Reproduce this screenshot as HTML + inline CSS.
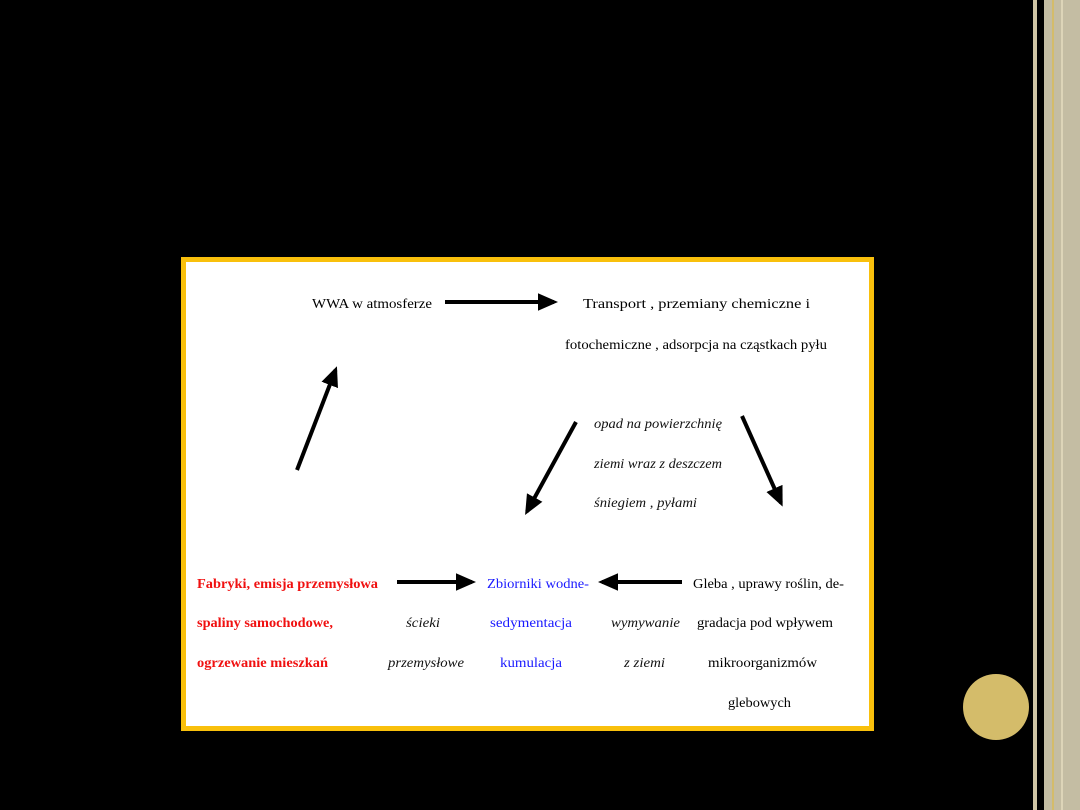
<!DOCTYPE html>
<html><head><meta charset="utf-8"><style>
html,body{margin:0;padding:0;background:#000;width:1080px;height:810px;overflow:hidden}
</style></head><body>
<svg width="1080" height="810" xmlns="http://www.w3.org/2000/svg" style="position:absolute;left:0;top:0">
<defs><marker id="ah" markerWidth="5" markerHeight="5" refX="4" refY="2.5" orient="auto" markerUnits="strokeWidth"><path d="M0,0.3 L5,2.5 L0,4.7 z" fill="#000"/></marker></defs>
<rect x="0" y="0" width="1080" height="810" fill="#000"/>
<rect x="1033" y="0" width="4" height="810" fill="#cfc5a5"/>
<rect x="1044" y="0" width="36" height="810" fill="#c4bda3"/>
<rect x="1052" y="0" width="2" height="810" fill="#d4bc6a"/>
<rect x="1061" y="0" width="2" height="810" fill="#ddd5b8"/>
<rect x="183.5" y="259.5" width="688" height="469" fill="#fff" stroke="#f9c00c" stroke-width="5"/>
<circle cx="996" cy="707" r="33" fill="#d4bc6a"/>
<g stroke="#000" stroke-width="4" fill="none" marker-end="url(#ah)">
<line x1="445" y1="302" x2="554" y2="302"/>
<line x1="397" y1="582" x2="472" y2="582"/>
<line x1="682" y1="582" x2="602" y2="582"/>
<line x1="297" y1="470" x2="335.5" y2="370"/>
<line x1="576" y1="422" x2="527" y2="511.5"/>
<line x1="742" y1="416" x2="781" y2="503"/>
</g>
<g font-family="Liberation Serif, serif" font-size="14" fill="#000">
<text x="312" y="308" textLength="120" lengthAdjust="spacingAndGlyphs">WWA w atmosferze</text>
<text x="583" y="308" textLength="227" lengthAdjust="spacingAndGlyphs">Transport , przemiany chemiczne i</text>
<text x="565" y="349" textLength="262" lengthAdjust="spacingAndGlyphs">fotochemiczne , adsorpcja na cząstkach pyłu</text>
<text x="693" y="588" textLength="151" lengthAdjust="spacingAndGlyphs">Gleba , uprawy roślin,  de-</text>
<text x="697" y="627" textLength="136" lengthAdjust="spacingAndGlyphs">gradacja pod wpływem</text>
<text x="708" y="667" textLength="109" lengthAdjust="spacingAndGlyphs">mikroorganizmów</text>
<text x="728" y="707" textLength="63" lengthAdjust="spacingAndGlyphs">glebowych</text>
</g>
<g font-family="Liberation Serif, serif" font-size="14" font-weight="bold" fill="#f01010">
<text x="197" y="588" textLength="181" lengthAdjust="spacingAndGlyphs">Fabryki, emisja przemysłowa</text>
<text x="197" y="627" textLength="136" lengthAdjust="spacingAndGlyphs">spaliny samochodowe,</text>
<text x="197" y="667" textLength="131" lengthAdjust="spacingAndGlyphs">ogrzewanie mieszkań</text>
</g>
<g font-family="Liberation Serif, serif" font-size="14" fill="#1a1aff">
<text x="487" y="588" textLength="102" lengthAdjust="spacingAndGlyphs">Zbiorniki wodne-</text>
<text x="490" y="627" textLength="82" lengthAdjust="spacingAndGlyphs">sedymentacja</text>
<text x="500" y="667" textLength="62" lengthAdjust="spacingAndGlyphs">kumulacja</text>
</g>
<g font-family="Liberation Serif, serif" font-size="14" font-style="italic" fill="#111">
<text x="594" y="428" textLength="128" lengthAdjust="spacingAndGlyphs">opad na powierzchnię</text>
<text x="594" y="468" textLength="128" lengthAdjust="spacingAndGlyphs">ziemi wraz z deszczem</text>
<text x="594" y="507" textLength="103" lengthAdjust="spacingAndGlyphs">śniegiem , pyłami</text>
<text x="406" y="627" textLength="34" lengthAdjust="spacingAndGlyphs">ścieki</text>
<text x="388" y="667" textLength="76" lengthAdjust="spacingAndGlyphs">przemysłowe</text>
<text x="611" y="627" textLength="69" lengthAdjust="spacingAndGlyphs">wymywanie</text>
<text x="624" y="667" textLength="41" lengthAdjust="spacingAndGlyphs">z ziemi</text>
</g>
</svg>
</body></html>
